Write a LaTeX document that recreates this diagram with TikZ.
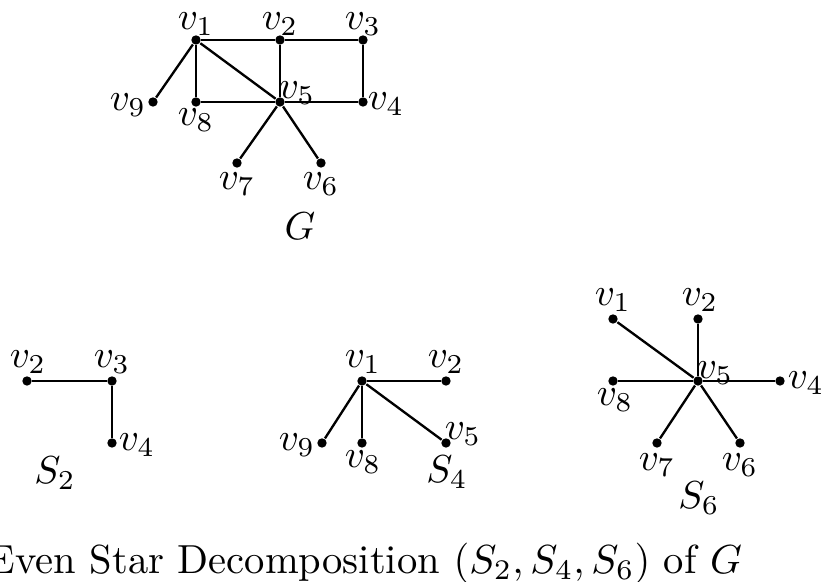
\documentclass[tikz,border=0pt]{standalone}
\begin{document}
\begin{tikzpicture}[x=0.2564pt,y=-0.2564pt,
  vtx/.style={circle,fill,inner sep=0pt,minimum size=2.4pt},
  lbl/.style={inner sep=0pt},
  edge/.style={line width=0.6pt}]
\useasboundingbox (0,0) rectangle (824,582);
% ---- G ----
\node[vtx] (a1) at (196,40) {};
\node[vtx] (a2) at (280,40) {};
\node[vtx] (a3) at (363,40) {};
\node[vtx] (a4) at (363,102) {};
\node[vtx] (a5) at (280,102) {};
\node[vtx] (a6) at (321,163) {};
\node[vtx] (a7) at (237,163) {};
\node[vtx] (a8) at (196,102) {};
\node[vtx] (a9) at (153,102) {};
\draw[edge] (a1) -- (a2) -- (a3) -- (a4) -- (a5) -- (a8) -- (a1);
\draw[edge] (a1) -- (a5);
\draw[edge] (a2) -- (a5);
\draw[edge] (a1) -- (a9);
\draw[edge] (a5) -- (a7);
\draw[edge] (a5) -- (a6);
\node[lbl] (la1) at (196,24) {$v_1$};
\node[lbl] (la2) at (280,24) {$v_2$};
\node[lbl] (la3) at (363,24) {$v_3$};
\node[lbl] (la4) at (386,104) {$v_4$};
\node[lbl] (la5) at (297,93) {$v_5$};
\node[lbl] (la6) at (321,184) {$v_6$};
\node[lbl] (la7) at (237,184) {$v_7$};
\node[lbl] (la8) at (196,120) {$v_8$};
\node[lbl] (la9) at (128,105) {$v_9$};
\node[lbl] (lG) at (300,226) {$G$};
% ---- S2 ----
\node[vtx] (b2) at (27,381) {};
\node[vtx] (b3) at (112,381) {};
\node[vtx] (b4) at (112,443) {};
\draw[edge] (b2) -- (b3) -- (b4);
\node[lbl] (lb2) at (28,362) {$v_2$};
\node[lbl] (lb3) at (112,362) {$v_3$};
\node[lbl] (lb4) at (137,445) {$v_4$};
\node[lbl] (lS2) at (55,473) {$S_2$};
% ---- S4 ----
\node[vtx] (c1) at (362,381) {};
\node[vtx] (c2) at (446,381) {};
\node[vtx] (c9) at (322,443) {};
\node[vtx] (c8) at (362,443) {};
\node[vtx] (c5) at (446,443) {};
\draw[edge] (c1) -- (c2);
\draw[edge] (c1) -- (c9);
\draw[edge] (c1) -- (c8);
\draw[edge] (c1) -- (c5);
\node[lbl] (lc1) at (363,362) {$v_1$};
\node[lbl] (lc2) at (446,362) {$v_2$};
\node[lbl] (lc9) at (297,445) {$v_9$};
\node[lbl] (lc8) at (363,462) {$v_8$};
\node[lbl] (lc5) at (463,434) {$v_5$};
\node[lbl] (lS4) at (447,472) {$S_4$};
% ---- S6 ----
\node[vtx] (d5) at (698,381) {};
\node[vtx] (d1) at (613,319) {};
\node[vtx] (d2) at (698,319) {};
\node[vtx] (d8) at (613,381) {};
\node[vtx] (d4) at (780,381) {};
\node[vtx] (d7) at (657,443) {};
\node[vtx] (d6) at (740,443) {};
\draw[edge] (d5) -- (d1);
\draw[edge] (d5) -- (d2);
\draw[edge] (d5) -- (d8);
\draw[edge] (d5) -- (d4);
\draw[edge] (d5) -- (d7);
\draw[edge] (d5) -- (d6);
\node[lbl] (ld1) at (613,300) {$v_1$};
\node[lbl] (ld2) at (700,300) {$v_2$};
\node[lbl] (ld5) at (715,373) {$v_5$};
\node[lbl] (ld4) at (806,383) {$v_4$};
\node[lbl] (ld8) at (615,400) {$v_8$};
\node[lbl] (ld7) at (657,465) {$v_7$};
\node[lbl] (ld6) at (740,465) {$v_6$};
\node[lbl] (lS6) at (699,498) {$S_6$};
% ---- caption ----
\node[lbl,anchor=west,scale=1.04] (cap) at (-13,563) {Even Star Decomposition $(S_2,S_4,S_6)$ of $G$};
\end{tikzpicture}
\end{document}
